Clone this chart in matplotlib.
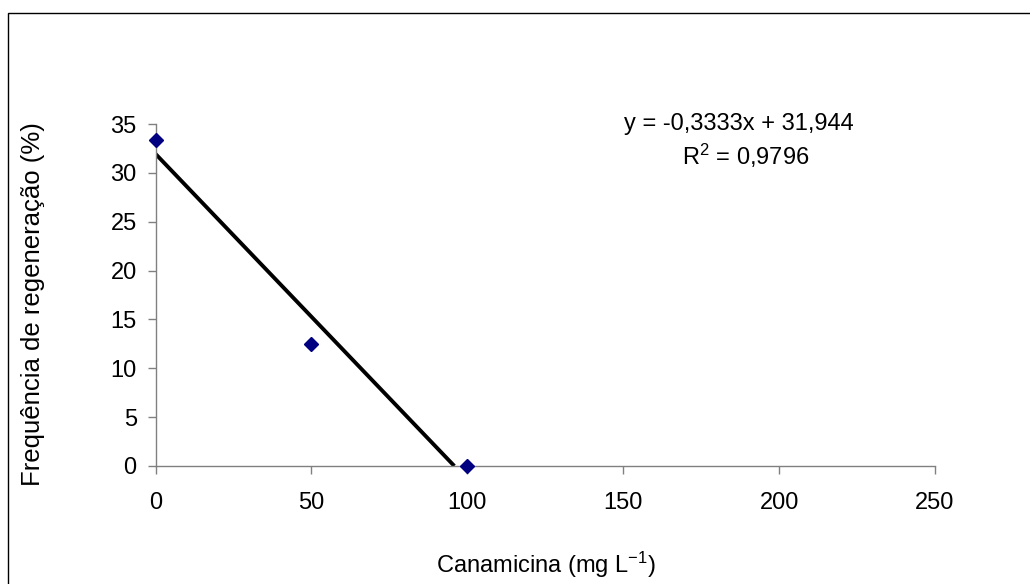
#!/usr/bin/env python3

import matplotlib
matplotlib.use("Agg")
import matplotlib.pyplot as plt
import numpy as np
from matplotlib.patches import Rectangle

# data
canamicina = [0, 50, 100]
frequencia = [33.33, 12.5, 0.0]
slope = -0.3333
intercept = 31.944
r2 = 0.9796
xticks = [0, 50, 100, 150, 200, 250]
yticks = [0, 5, 10, 15, 20, 25, 30, 35]

plt.rcParams["font.family"] = ["Liberation Sans", "DejaVu Sans"]
plt.rcParams["mathtext.fontset"] = "custom"
plt.rcParams["mathtext.rm"] = "Liberation Sans"
plt.rcParams["mathtext.it"] = "Liberation Sans"

FS = 17
W, H = 1030, 584
fig = plt.figure(figsize=(W / 100, H / 100), dpi=100)
ax = fig.add_axes([155.5 / W, 1 - 466 / H, (935 - 155.5) / W, (466 - 124) / H])

# trend line, from x=0 to where it reaches zero
x_end = -intercept / slope
xl = np.array([0, x_end])
ax.plot(xl, slope * xl + intercept, color="black", lw=2.8, solid_capstyle="butt", zorder=2)
ax.plot(canamicina, frequencia, ls="none", marker="D", ms=7.2, color="#000080", zorder=3, clip_on=False)

ax.set_xlim(0, 250)
ax.set_ylim(0, 35)
ax.set_xticks(xticks)
ax.set_yticks(yticks)
ax.set_xticklabels([str(v) for v in xticks])
ax.set_yticklabels([str(v) for v in yticks])

for s in ["top", "right"]:
    ax.spines[s].set_visible(False)
for s in ["left", "bottom"]:
    ax.spines[s].set_color("#808080")
    ax.spines[s].set_linewidth(1.0)
ax.tick_params(axis="both", direction="out", length=5.5, width=1.0, color="#808080",
               labelsize=FS, labelcolor="black")
ax.tick_params(axis="x", pad=13)
ax.tick_params(axis="y", pad=8)

fig.text(739 / W, 1 - 130 / H, "y = -0,3333x + 31,944", ha="center", va="baseline", fontsize=FS)
fig.text(746 / W, 1 - 165 / H, "R$^{2}$ = 0,9796", ha="center", va="baseline", fontsize=FS)

fig.text(546 / W, 1 - 573 / H, "Canamicina (mg L$^{-1}$)", ha="center", va="baseline", fontsize=FS)
fig.text(33 / W, 1 - 304 / H, "Frequência de regeneração (%)", ha="center", va="center",
         rotation=90, fontsize=18.5)

# outer chart border (Excel style, cut by the image edges)
fig.patches.append(Rectangle((7.5 / W, -0.05), 1.1, 1 - 12.5 / H + 0.05, transform=fig.transFigure,
                             fill=False, edgecolor="black", lw=1.0))

fig.savefig("out.png", dpi=100)
plt.close()
